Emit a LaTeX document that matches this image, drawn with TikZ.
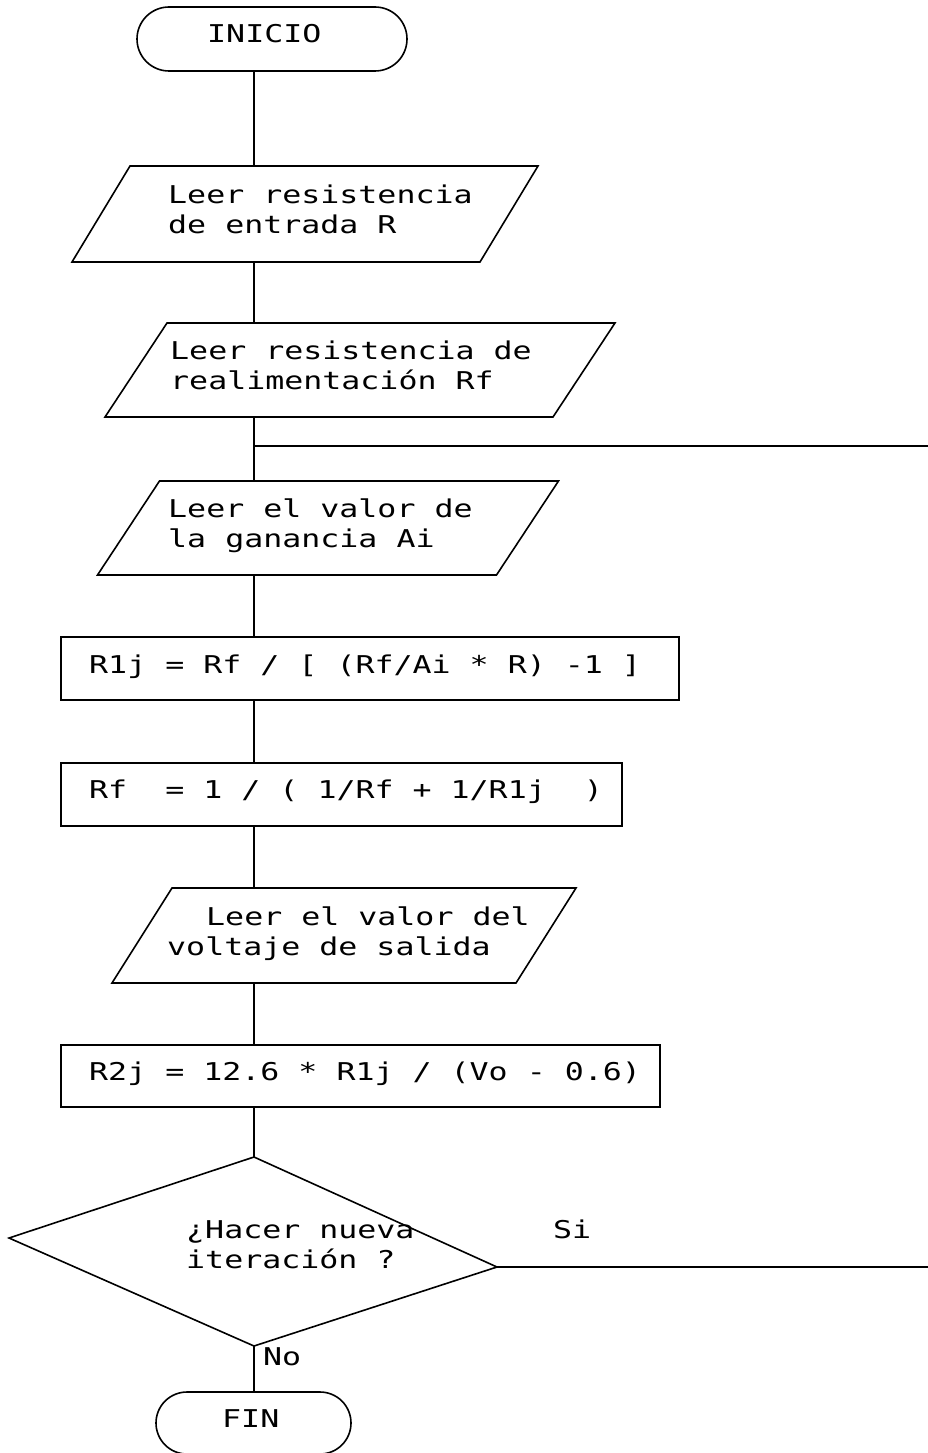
\documentclass[tikz,border=0pt]{standalone}
\usepackage{fontspec}
\newfontfamily\dotfont[FakeStretch=1.29]{DejaVu Sans Mono}
\begin{document}
\begin{tikzpicture}[x=1pt,y=-1pt,
  line/.style={line width=1.6pt, draw=black},
  frame/.style={inner sep=0pt, outer sep=0pt},
  term/.style={frame, draw=black, line width=1.6pt},
  txt/.style={anchor=base west, inner sep=0pt, font=\dotfont\fontsize{24.5}{30}\selectfont}]
\useasboundingbox (0,0) rectangle (928,1453);
\coordinate (spine) at (254,0);
% terminals
\node[term, minimum width=270pt, minimum height=64pt, rounded corners=32pt] (inicio) at (272,39) {};
\node[term, minimum width=195pt, minimum height=62pt, rounded corners=31pt] (fin) at (253.5,1423) {};
% parallelograms (frames are the mid-height rectangles)
\node[frame, minimum width=408pt, minimum height=96pt] (p1) at (305,214) {};
\node[frame, minimum width=448pt, minimum height=94pt] (p2) at (360,370) {};
\node[frame, minimum width=399pt, minimum height=94pt] (p3) at (328,528) {};
\node[frame, minimum width=404pt, minimum height=95pt] (p4) at (344,935.5) {};
\draw[line] ([xshift=29pt]p1.north west) -- ([xshift=29pt]p1.north east) -- ([xshift=-29pt]p1.south east) -- ([xshift=-29pt]p1.south west) -- cycle;
\draw[line] ([xshift=31pt]p2.north west) -- ([xshift=31pt]p2.north east) -- ([xshift=-31pt]p2.south east) -- ([xshift=-31pt]p2.south west) -- cycle;
\draw[line] ([xshift=31pt]p3.north west) -- ([xshift=31pt]p3.north east) -- ([xshift=-31pt]p3.south east) -- ([xshift=-31pt]p3.south west) -- cycle;
\draw[line] ([xshift=30pt]p4.north west) -- ([xshift=30pt]p4.north east) -- ([xshift=-30pt]p4.south east) -- ([xshift=-30pt]p4.south west) -- cycle;
% process boxes
\node[term, minimum width=618pt, minimum height=63pt] (b1) at (370,668.5) {};
\node[term, minimum width=561pt, minimum height=63pt] (b2) at (341.5,794.5) {};
\node[term, minimum width=599pt, minimum height=62pt] (b3) at (360.5,1076) {};
% decision
\coordinate (dtop) at (254,1157);
\coordinate (dleft) at (9,1238);
\coordinate (dright) at (497,1267);
\coordinate (dbot) at (254,1346);
\draw[line] (dtop) -- (dright) -- (dbot) -- (dleft) -- cycle;
% loop ends
\coordinate (loopJ) at (254,446);
\coordinate (loopE) at (928,446);
\coordinate (decE) at (928,1267);
% texts
\node[txt] (tinicio) at (207,43) {INICIO};
\node[txt] (t1a) at (168,203) {Leer resistencia};
\node[txt] (t1b) at (168,233) {de entrada R};
\node[txt] (t2a) at (170,359) {Leer resistencia de};
\node[txt] (t2b) at (170,389) {realimentación Rf};
\node[txt] (t3a) at (168,517) {Leer el valor de};
\node[txt] (t3b) at (168,547) {la ganancia Ai};
\node[txt] (tb1) at (89,673) {R1j = Rf / [ (Rf/Ai * R) -1 ]};
\node[txt] (tb2) at (89,798) {Rf\ \ = 1 / ( 1/Rf + 1/R1j\ \ )};
\node[txt] (t4a) at (206,925) {Leer el valor del};
\node[txt] (t4b) at (167,955) {voltaje de salida};
\node[txt] (tb3) at (89,1080) {R2j = 12.6 * R1j / (Vo - 0.6)};
\node[txt] (tda) at (186,1238) {¿Hacer nueva};
\node[txt] (tdb) at (186,1268) {iteración ?};
\node[txt] (tsi) at (553,1238) {Si};
\node[txt] (tno) at (263,1365) {No};
\node[txt] (tfin) at (222,1427) {FIN};
% connectors
\draw[line] (inicio.south -| spine) -- (p1.north -| spine);
\draw[line] (p1.south -| spine) -- (p2.north -| spine);
\draw[line] (p2.south -| spine) -- (p3.north -| spine);
\draw[line] (loopJ) -- (loopE);
\draw[line] (p3.south -| spine) -- (b1.north -| spine);
\draw[line] (b1.south -| spine) -- (b2.north -| spine);
\draw[line] (b2.south -| spine) -- (p4.north -| spine);
\draw[line] (p4.south -| spine) -- (b3.north -| spine);
\draw[line] (b3.south -| spine) -- (dtop);
\draw[line] (dright) -- (decE);
\draw[line] (dbot) -- (fin.north -| spine);
\end{tikzpicture}
\end{document}
